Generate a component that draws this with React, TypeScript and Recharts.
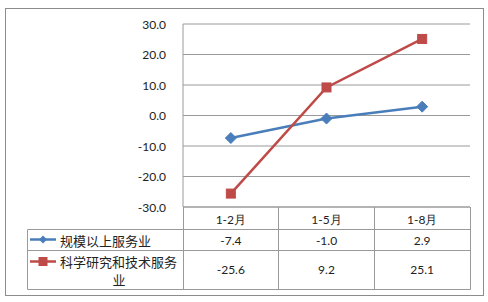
import { LineChart, Line, XAxis, YAxis, CartesianGrid } from "recharts";

const categories = ["1-2月", "1-5月", "1-8月"];
const seriesNames = ["规模以上服务业", "科学研究和技术服务", "业"];
const serviceValues = [-7.4, -1.0, 2.9];
const researchValues = [-25.6, 9.2, 25.1];
const yTicks = [-30, -20, -10, 0, 10, 20, 30];

const BLUE = "#4A7EBB";
const RED = "#BE4B48";
const GRID = "#9a9a9a";
const NUM_FONT = "Lato, 'Liberation Sans', sans-serif";
const CJK_FONT = "'Noto Sans CJK SC', sans-serif";

const W = 488;
const H = 302;
const plotLeft = 183;
const plotRight = 470;
const plotTop = 24;
const plotBottom = 207;
const xAxisH = 30;
const yAxisW = 60;

const data = categories.map((c, i) => ({
  name: c,
  service: serviceValues[i],
  research: researchValues[i],
}));

const Diamond = (p: any) => {
  const { cx, cy } = p;
  if (cx == null || cy == null) return null;
  const r = 5.5;
  return (
    <path
      d={`M${cx},${cy - r}L${cx + r},${cy}L${cx},${cy + r}L${cx - r},${cy}Z`}
      fill={BLUE}
      stroke={BLUE}
    />
  );
};

const Square = (p: any) => {
  const { cx, cy } = p;
  if (cx == null || cy == null) return null;
  const s = 9;
  return <rect x={cx - s / 2} y={cy - s / 2} width={s} height={s} fill={RED} stroke={RED} />;
};

const YTick = (p: any) => (
  <text x={p.x - 1} y={p.y} textAnchor="end" dominantBaseline="central" fontSize={12} fontFamily={NUM_FONT} fill="#222">
    {Number(p.payload.value).toFixed(1)}
  </text>
);

const XTick = (p: any) => (
  <text x={p.x} y={p.y + 4} textAnchor="middle" dominantBaseline="central" fontSize={12} fontFamily={NUM_FONT} fill="#222">
    {p.payload.value}
  </text>
);

const bandW = (plotRight - plotLeft) / categories.length;
const colCenter = (i: number) => plotLeft + bandW * (i + 0.5);

export default function App() {
  const row1 = 229.5;
  const row2 = 250.5;
  const row3 = 289.5;
  const tableLeft = 27.5;
  return (
    <div style={{ position: "absolute", left: 0, top: 0, width: W, height: H, background: "#fff" }}>
      <LineChart
        width={W}
        height={H}
        data={data}
        margin={{ top: plotTop, right: W - plotRight, bottom: H - plotBottom - xAxisH, left: plotLeft - yAxisW }}
      >
        <CartesianGrid vertical={false} stroke={GRID} />
        <XAxis
          dataKey="name"
          height={xAxisH}
          axisLine={{ stroke: GRID }}
          tickLine={false}
          tick={<XTick />}
          interval={0}
          padding={{ left: bandW / 2, right: bandW / 2 }}
        />
        <YAxis
          width={yAxisW}
          domain={[-30, 30]}
          ticks={yTicks}
          axisLine={{ stroke: GRID }}
          tickLine={false}
          tickMargin={10}
          tick={<YTick />}
        />
        <Line dataKey="service" stroke={BLUE} strokeWidth={2.5} dot={<Diamond />} activeDot={false} isAnimationActive={false} />
        <Line dataKey="research" stroke={RED} strokeWidth={2.5} dot={<Square />} activeDot={false} isAnimationActive={false} />
      </LineChart>
      <svg width={W} height={H} style={{ position: "absolute", left: 0, top: 0, pointerEvents: "none" }}>
        <rect x={5.5} y={8.5} width={478} height={287} fill="none" stroke="#8c8c8c" />
        <g stroke={GRID} strokeWidth={1}>
          {[plotLeft, 278, 374, plotRight].map((x, i) => (
            <line key={i} x1={x + 0.5} x2={x + 0.5} y1={plotBottom} y2={row3} />
          ))}
          <line x1={tableLeft} x2={tableLeft} y1={row1} y2={row3} />
          {[row1, row2, row3].map((y, i) => (
            <line key={i} x1={tableLeft} x2={plotRight + 0.5} y1={y} y2={y} />
          ))}
        </g>
        <line x1={30} x2={56} y1={239.5} y2={239.5} stroke={BLUE} strokeWidth={2.5} />
        <path d="M43,235.5L47,239.5L43,243.5L39,239.5Z" fill={BLUE} />
        <text x={60} y={240} dominantBaseline="central" fontSize={13} fontFamily={CJK_FONT} fill="#222">
          {seriesNames[0]}
        </text>
        <line x1={30} x2={56} y1={261.5} y2={261.5} stroke={RED} strokeWidth={2.5} />
        <rect x={38.5} y={257} width={9} height={9} fill={RED} />
        <text x={60} y={261} dominantBaseline="central" fontSize={13} fontFamily={CJK_FONT} fill="#222">
          {seriesNames[1]}
        </text>
        <text x={119} y={279} textAnchor="middle" dominantBaseline="central" fontSize={13} fontFamily={CJK_FONT} fill="#222">
          {seriesNames[2]}
        </text>
        {serviceValues.map((v, i) => (
          <text key={i} x={colCenter(i)} y={240} textAnchor="middle" dominantBaseline="central" fontSize={12} fontFamily={NUM_FONT} fill="#222">
            {v.toFixed(1)}
          </text>
        ))}
        {researchValues.map((v, i) => (
          <text key={i} x={colCenter(i)} y={269.5} textAnchor="middle" dominantBaseline="central" fontSize={12} fontFamily={NUM_FONT} fill="#222">
            {v.toFixed(1)}
          </text>
        ))}
      </svg>
    </div>
  );
}
